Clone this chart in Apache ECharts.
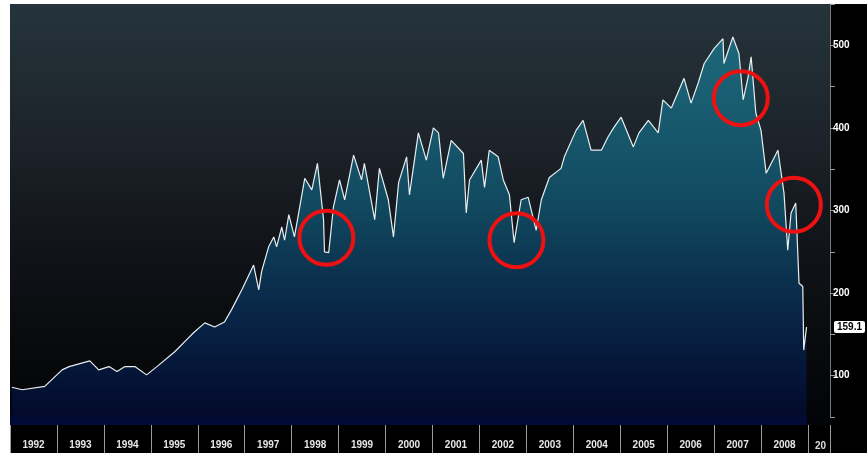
<!DOCTYPE html>
<html>
<head>
<meta charset="utf-8">
<script src="https://cdn.jsdelivr.net/npm/echarts@6/dist/echarts.min.js"></script>
<style>body{margin:0;background:#fff}</style>
</head>
<body>
<div id="main" style="width:867px;height:453px"></div>
<script>
// time in decimal years, index level
var years = [1992.04,1992.26,1992.74,1993.11,1993.26,1993.70,1993.89,1994.11,1994.28,1994.45,1994.66,1994.91,
  1995.13,1995.51,1995.77,1995.91,1996.15,1996.36,1996.57,1996.72,1996.94,1997.19,1997.30,1997.36,1997.51,1997.62,
  1997.68,1997.79,1997.85,1997.94,1998.06,1998.28,1998.43,1998.55,1998.68,1998.70,1998.79,1998.89,1999.02,1999.13,
  1999.32,1999.49,1999.55,1999.77,1999.87,2000.06,2000.17,2000.28,2000.45,2000.51,2000.70,2000.87,2001.02,2001.13,
  2001.23,2001.40,2001.66,2001.72,2001.79,2002.04,2002.11,2002.21,2002.40,2002.51,2002.64,2002.74,2002.89,2003.04,
  2003.21,2003.32,2003.49,2003.74,2003.81,2004.06,2004.21,2004.38,2004.60,2004.74,2004.87,2005.02,2005.28,2005.40,
  2005.60,2005.81,2005.91,2006.09,2006.36,2006.51,2006.66,2006.79,2007.00,2007.19,2007.21,2007.40,2007.53,2007.62,
  2007.72,2007.79,2007.89,2008.00,2008.11,2008.36,2008.49,2008.57,2008.64,2008.74,2008.81,2008.89,2008.91,2008.97];
var values = [86,83,87,107,111,118,107,111,105,111,111,101,
  111,129,144,152,164,159,165,180,204,234,204,226,256,268,
  256,280,264,295,268,339,325,357,289,250,249,304,337,313,
  367,337,357,289,351,313,268,334,365,319,394,361,400,394,
  339,385,369,297,337,361,328,373,365,337,319,261,313,316,
  276,313,340,351,365,397,409,373,373,389,401,413,377,394,
  409,394,434,424,460,430,454,478,496,508,478,510,490,434,
  460,486,418,397,345,373,321,252,297,309,212,208,131,159];
var lastValue = 159.1;
var yTicks = [100,200,300,400,500];
var xYears = [1992,1993,1994,1995,1996,1997,1998,1999,2000,2001,2002,2003,2004,2005,2006,2007,2008];
// annotated dips
var circles = [[1998.74,267],[2002.79,264],[2007.57,436],[2008.70,307]];

var chart = echarts.init(document.getElementById('main'));
var data = years.map(function (y, i) { return [y, values[i]]; });

chart.setOption({
  animation: false,
  graphic: [
    { type: 'rect', z: -10, shape: { x: 830, y: 4, width: 37, height: 449 }, style: { fill: '#000' } },
    { type: 'rect', z: -10, shape: { x: 10, y: 417, width: 820, height: 8 }, style: { fill: '#030408' } },
    { type: 'rect', z: -10, shape: { x: 10, y: 417, width: 797, height: 8 }, style: { fill: '#020b36' } },
    { type: 'rect', z: -10, shape: { x: 10, y: 425, width: 857, height: 28 }, style: { fill: '#000' } },
    { type: 'text', z: 10, left: 815, top: 441, style: { text: '20', fill: '#ddd', font: 'bold 10px Arial' } }
  ],
  grid: {
    left: 10, right: 37, top: 4, bottom: 36, show: true, borderWidth: 0,
    backgroundColor: new echarts.graphic.LinearGradient(0, 0, 0, 1, [
      { offset: 0, color: '#25343b' }, { offset: 0.35, color: '#1c2229' },
      { offset: 0.6, color: '#101318' }, { offset: 0.85, color: '#07090b' }, { offset: 1, color: '#030408' }])
  },
  xAxis: {
    type: 'value', min: 1992, max: 2009.47, interval: 1, offset: 8,
    axisLine: { show: false },
    axisTick: { show: true, length: 28, lineStyle: { color: '#9a9a9a', width: 1 } },
    splitLine: { show: false },
    axisLabel: {
      color: '#e6e6e6', fontSize: 10, fontWeight: 'bold', fontFamily: 'Arial', margin: 15,
      padding: [0, 0, 0, 47],
      formatter: function (v) { return xYears.indexOf(v) >= 0 ? String(v) : ''; }
    }
  },
  yAxis: {
    type: 'value', position: 'right', min: 50, max: 550, interval: 50,
    axisLine: { show: true, lineStyle: { color: '#777' } },
    axisTick: { show: true, length: 5, lineStyle: { color: '#999' } },
    splitLine: { show: false },
    axisLabel: {
      color: '#fff', fontSize: 10, fontWeight: 'bold', fontFamily: 'Arial', margin: 3,
      formatter: function (v) { return yTicks.indexOf(v) >= 0 ? String(v) : ''; }
    }
  },
  series: [{
    type: 'line', data: data, symbol: 'none', clip: false,
    lineStyle: { color: '#e8eef0', width: 1.2 },
    areaStyle: {
      origin: 'start',
      color: new echarts.graphic.LinearGradient(0, 0, 0, 1, [
        { offset: 0, color: '#1a8199' }, { offset: 0.45, color: '#0f5d7a' },
        { offset: 0.75, color: '#072c5c' }, { offset: 1, color: '#020c3a' }])
    },
    markLine: {
      silent: true, symbol: 'none',
      lineStyle: { color: 'rgba(0,0,0,0)', width: 0 },
      label: {
        show: true, position: 'end', distance: 4, formatter: String(lastValue), backgroundColor: '#fff',
        color: '#000', fontSize: 10, fontWeight: 'bold', fontFamily: 'Arial', padding: [1, 3], borderRadius: 2
      },
      data: [{ yAxis: lastValue }]
    },
    markPoint: {
      silent: true, symbol: 'circle', symbolSize: 54, label: { show: false },
      itemStyle: { color: 'rgba(0,0,0,0)', borderColor: '#ee1111', borderWidth: 4 },
      data: circles.map(function (c) { return { coord: c }; })
    }
  }]
});
</script>
</body>
</html>
